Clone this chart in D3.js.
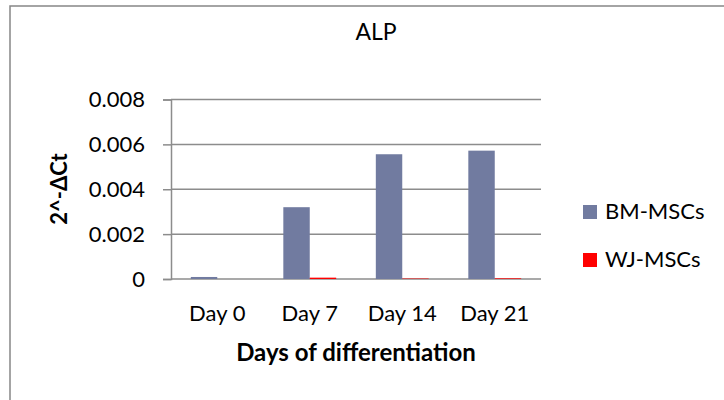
<!DOCTYPE html>
<html>
<head>
<meta charset="utf-8">
<script src="https://cdn.jsdelivr.net/npm/d3@7"></script>
<style>
  html, body { margin: 0; padding: 0; background: #fff; }
  svg { display: block; }
  text { font-family: Lato, "Open Sans", sans-serif; fill: #000; }
</style>
</head>
<body>
<svg id="chart" width="724" height="400"></svg>
<script>
// ALP expression (2^-ΔCt) over the course of differentiation
const categories = ["Day 0", "Day 7", "Day 14", "Day 21"];
const seriesNames = ["BM-MSCs", "WJ-MSCs"];
const bmValues = [0.00009, 0.0032, 0.00556, 0.00572];
const wjValues = [0.0, 0.00006, 0.00002, 0.00003];
const yTicks = [0, 0.002, 0.004, 0.006, 0.008];
const seriesColors = ["#717ba0", "#ff0000"];

const svg = d3.select("#chart");
const W = 724, H = 400;

// chart frame
svg.append("rect")
  .attr("x", 10).attr("y", 6)
  .attr("width", W + 10).attr("height", H + 10)
  .attr("fill", "#fff").attr("stroke", "#868686").attr("stroke-width", 1.5);

const plot = { left: 171, right: 541, top: 99.5, bottom: 279 };

const x = d3.scaleBand()
  .domain(categories)
  .range([plot.left, plot.right])
  .paddingInner(0).paddingOuter(0);

// two bars per category with a 150% gap
const barW = x.bandwidth() / 3.5;
const x1 = d3.scaleBand().domain(seriesNames)
  .range([barW * 0.75, barW * 2.75]).padding(0);

const y = d3.scaleLinear().domain([0, 0.008]).range([plot.bottom, plot.top]);

// horizontal gridlines
svg.append("g")
  .selectAll("line")
  .data(yTicks)
  .join("line")
  .attr("x1", plot.left).attr("x2", plot.right)
  .attr("y1", d => y(d)).attr("y2", d => y(d))
  .attr("stroke", "#8c8c8c").attr("stroke-width", 1.5);

// bars
const rows = categories.map((c, i) => ({ cat: c, vals: [bmValues[i], wjValues[i]] }));
const groups = svg.append("g").selectAll("g")
  .data(rows).join("g")
  .attr("transform", d => `translate(${x(d.cat)},0)`);
groups.selectAll("rect")
  .data(d => d.vals.map((v, j) => ({ name: seriesNames[j], v, j })))
  .join("rect")
  .attr("x", d => x1(d.name))
  .attr("width", x1.bandwidth())
  .attr("y", d => y(d.v))
  .attr("height", d => y(0) - y(d.v))
  .attr("fill", d => seriesColors[d.j]);

// y axis
const yAxis = svg.append("g")
  .attr("transform", `translate(${plot.left},0)`)
  .call(d3.axisLeft(y).tickValues(yTicks).tickSize(8).tickPadding(18)
    .tickFormat(d => d === 0 ? "0" : d3.format(".3f")(d)));
yAxis.select(".domain").attr("stroke", "#8c8c8c").attr("stroke-width", 1.5);
yAxis.selectAll(".tick line").attr("stroke", "#8c8c8c").attr("stroke-width", 1.5);
yAxis.selectAll(".tick text")
  .attr("font-size", 22).attr("font-family", "Lato, sans-serif");

// x axis
const xAxis = svg.append("g")
  .attr("transform", `translate(0,${plot.bottom})`)
  .call(d3.axisBottom(x).tickSize(0).tickPadding(26));
xAxis.select(".domain").remove();
xAxis.selectAll(".tick text")
  .attr("font-size", 22).attr("font-family", "Lato, sans-serif");

// titles
svg.append("text")
  .attr("x", 376).attr("y", 40)
  .attr("text-anchor", "middle")
  .attr("font-size", 23)
  .text("ALP");

svg.append("text")
  .attr("x", 356).attr("y", 361)
  .attr("text-anchor", "middle")
  .attr("font-size", 24).attr("font-weight", "bold")
  .text("Days of differentiation");

svg.append("text")
  .attr("transform", "translate(67,189) rotate(-90)")
  .attr("text-anchor", "middle")
  .attr("font-size", 22).attr("font-weight", "bold")
  .text("2^-ΔCt");

// legend
const legend = svg.append("g").attr("transform", "translate(583,205)");
const li = legend.selectAll("g").data(seriesNames).join("g")
  .attr("transform", (d, i) => `translate(0,${i * 48})`);
li.append("rect").attr("width", 14).attr("height", 14)
  .attr("fill", (d, i) => seriesColors[i]);
li.append("text").attr("x", 22).attr("y", 14)
  .attr("font-size", 22).text(d => d);
</script>
</body>
</html>
